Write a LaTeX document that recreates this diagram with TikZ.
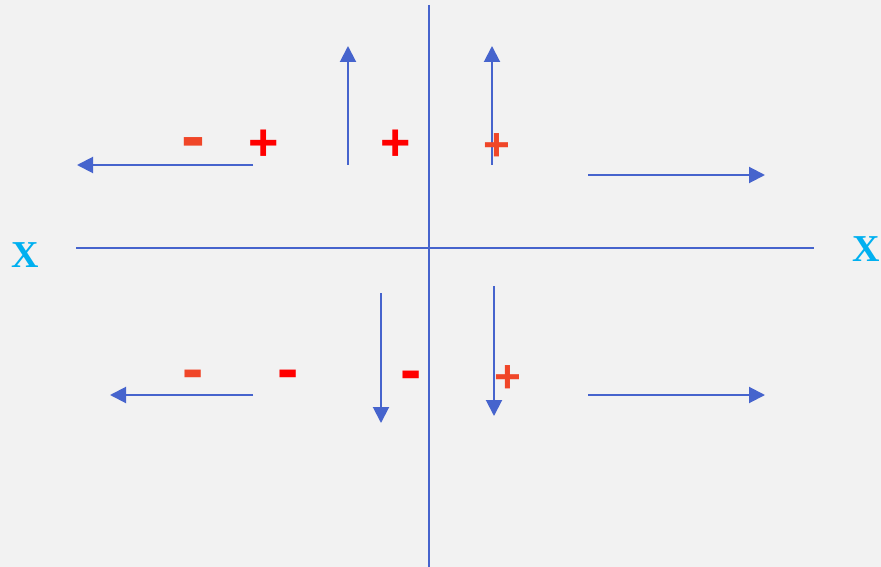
\documentclass[tikz,border=0pt]{standalone}
\usepackage{fontspec}
\setmainfont{Liberation Serif}
\newfontfamily\signfont{Liberation Sans}
\usetikzlibrary{arrows.meta}
\definecolor{bgc}{RGB}{242,242,242}
\definecolor{bluel}{RGB}{70,100,205}
\definecolor{xcol}{RGB}{0,176,240}
\definecolor{redA}{RGB}{255,0,0}
\definecolor{redB}{RGB}{240,70,40}
\tikzset{
  axisline/.style={draw=bluel, line width=1.6pt},
  vecarrow/.style={draw=bluel, line width=2pt, -{Triangle[length=16pt,width=16pt]}},
  xlabel/.style={inner sep=0pt, text=xcol, font=\bfseries\fontsize{38}{38}\selectfont},
  plussign/.style={inner sep=0pt, font=\signfont\bfseries\fontsize{52}{52}\selectfont},
  smallplus/.style={inner sep=0pt, font=\signfont\bfseries\fontsize{46}{46}\selectfont},
  minussign/.style={inner sep=0pt, font=\signfont\bfseries\fontsize{72}{72}\selectfont},
  minussmall/.style={inner sep=0pt, font=\signfont\bfseries\fontsize{64}{64}\selectfont},
}
\begin{document}
\begin{tikzpicture}[x=1pt,y=-1pt]
\fill[bgc] (0,0) rectangle (881,567);
\useasboundingbox (0,0) rectangle (881,567);
% axes
\coordinate (vt) at (429,5);
\coordinate (vb) at (429,567);
\coordinate (hl) at (76,248);
\coordinate (hr) at (814,248);
\draw[axisline] (vt) -- (vb);
\draw[axisline] (hl) -- (hr);
% X labels
\node[xlabel] (xl) at (25,255.5) {X};
\node[xlabel] (xr) at (866,249.5) {X};
% arrows, upper half
\coordinate (a1s) at (253,165); \coordinate (a1e) at (77,165);
\coordinate (a2s) at (348,165); \coordinate (a2e) at (348,46);
\coordinate (a3s) at (492,165); \coordinate (a3e) at (492,46);
\coordinate (a4s) at (588,175); \coordinate (a4e) at (765,175);
\draw[vecarrow] (a1s) -- (a1e);
\draw[vecarrow] (a2s) -- (a2e);
\draw[vecarrow] (a3s) -- (a3e);
\draw[vecarrow] (a4s) -- (a4e);
% arrows, lower half
\coordinate (b1s) at (253,395); \coordinate (b1e) at (110,395);
\coordinate (b2s) at (381,293); \coordinate (b2e) at (381,423);
\coordinate (b3s) at (494,286); \coordinate (b3e) at (494,416);
\coordinate (b4s) at (588,395); \coordinate (b4e) at (765,395);
\draw[vecarrow] (b1s) -- (b1e);
\draw[vecarrow] (b2s) -- (b2e);
\draw[vecarrow] (b3s) -- (b3e);
\draw[vecarrow] (b4s) -- (b4e);
% signs
\node[minussign, text=redB] (s1) at (193,149.5) {-};
\node[plussign, text=redA] (s2) at (263.5,145) {+};
\node[plussign, text=redA] (s3) at (396,145) {+};
\node[smallplus, text=redB] (s4) at (497,147.5) {+};
\node[minussmall, text=redB] (s5) at (193,380.5) {-};
\node[minussmall, text=redA] (s6) at (288,380.5) {-};
\node[minussmall, text=redA] (s7) at (411,381) {-};
\node[smallplus, text=redB] (s8) at (507.5,379) {+};
\end{tikzpicture}
\end{document}
